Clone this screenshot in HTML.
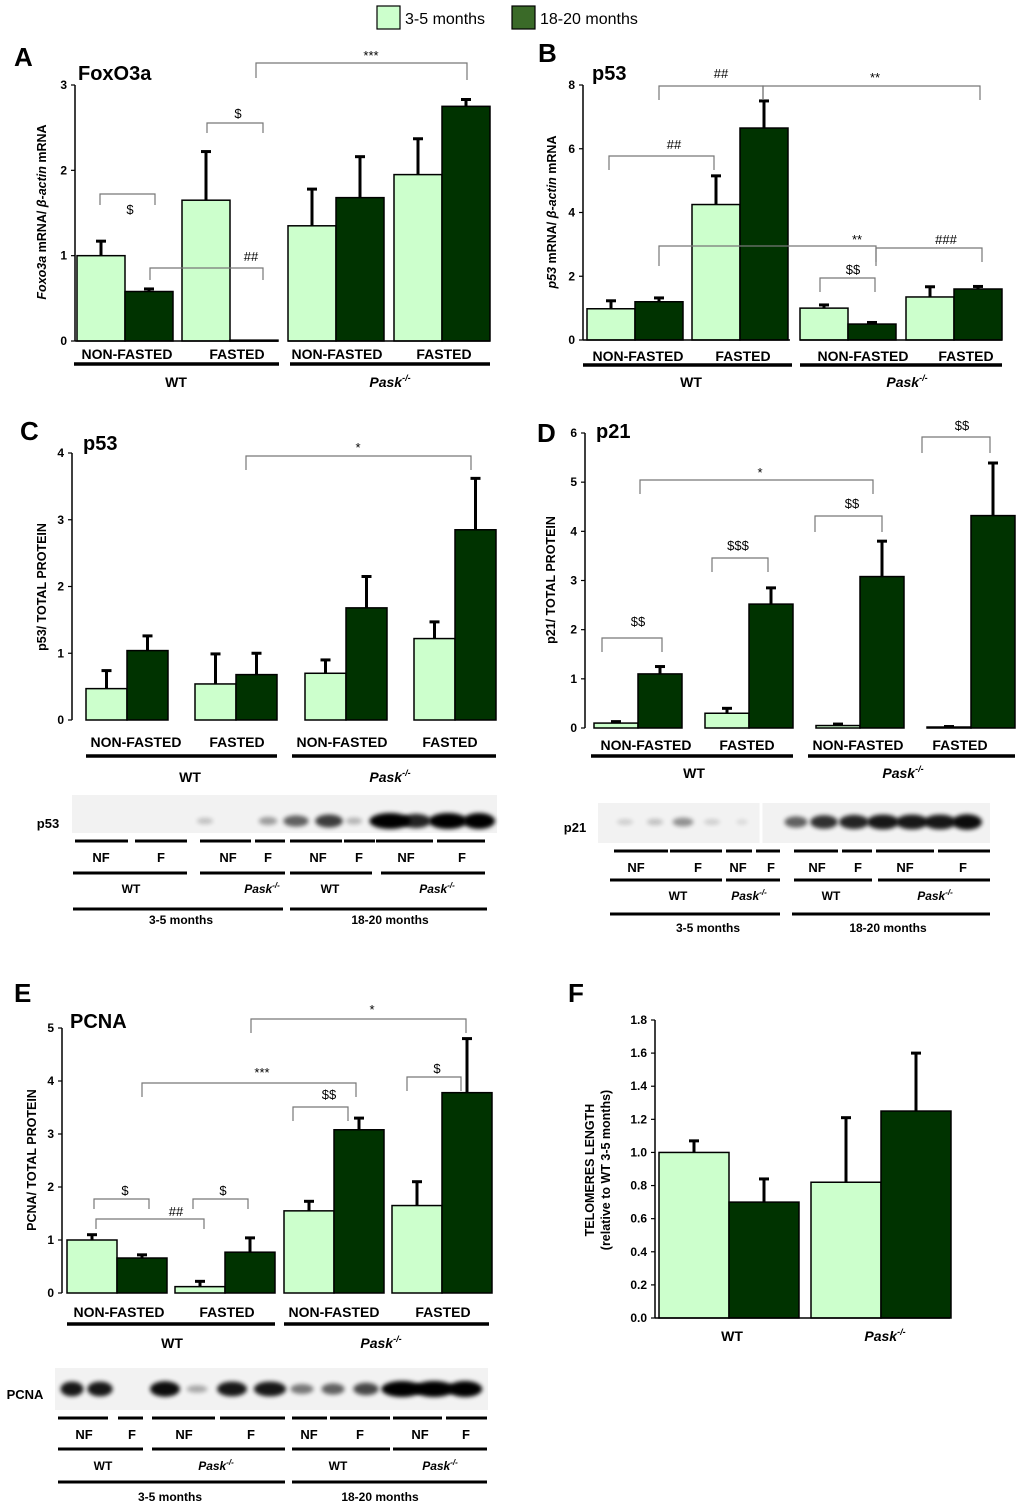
<!DOCTYPE html>
<html><head><meta charset="utf-8"><style>
body{margin:0;background:#fff}
svg{display:block;font-family:"Liberation Sans",Arial,sans-serif}
</style></head><body>
<svg id="fig" width="1020" height="1508" viewBox="0 0 1020 1508">
<defs><filter id="bl" x="-50%" y="-100%" width="200%" height="300%"><feGaussianBlur stdDeviation="2"/></filter></defs>
<g>
<rect x="377" y="6" width="23" height="23" fill="#ccffcc" stroke="#000" stroke-width="1.2"/>
<text x="405" y="24" font-size="16">3-5 months</text>
<rect x="512" y="6" width="23" height="23" fill="#3a6a28" stroke="#000" stroke-width="1.2"/>
<text x="540" y="24" font-size="16">18-20 months</text>
</g>
</svg>
<script>
// ---- data ----
const groups = ["NON-FASTED","FASTED","NON-FASTED","FASTED"];
const aYoung=[1.0,1.65,1.35,1.95], aOld=[0.58,0.01,1.68,2.75], aYoungErr=[0.17,0.57,0.43,0.42], aOldErr=[0.03,0,0.48,0.08];
const aTicks=[0,1,2,3];
const bYoung=[0.98,4.25,1.0,1.35], bOld=[1.2,6.65,0.5,1.6], bYoungErr=[0.25,0.9,0.1,0.32], bOldErr=[0.12,0.85,0.05,0.08];
const bTicks=[0,2,4,6,8];
const cYoung=[0.47,0.54,0.7,1.22], cOld=[1.04,0.68,1.68,2.85], cYoungErr=[0.27,0.45,0.2,0.25], cOldErr=[0.22,0.32,0.47,0.77];
const cTicks=[0,1,2,3,4];
const dYoung=[0.1,0.3,0.05,0.02], dOld=[1.1,2.52,3.08,4.32], dYoungErr=[0.03,0.1,0.03,0.01], dOldErr=[0.15,0.33,0.72,1.07];
const dTicks=[0,1,2,3,4,5,6];
const eYoung=[1.0,0.12,1.55,1.65], eOld=[0.66,0.77,3.08,3.78], eYoungErr=[0.1,0.1,0.18,0.45], eOldErr=[0.06,0.27,0.22,1.02];
const eTicks=[0,1,2,3,4,5];
const fGroups=["WT","Pask"];
const fYoung=[1.0,0.82], fOld=[0.7,1.25], fYoungErr=[0.07,0.39], fOldErr=[0.14,0.35];
const fTicks=[0,0.2,0.4,0.6,0.8,1.0,1.2,1.4,1.6,1.8];

const NS="http://www.w3.org/2000/svg", svg=document.getElementById('fig');
function el(tag,attrs,parent,text){const e=document.createElementNS(NS,tag);for(const k in attrs)e.setAttribute(k,attrs[k]);if(text!==undefined)e.textContent=text;(parent||svg).appendChild(e);return e;}
function grp(name){const g=el('g',{});return g;}

function panel(p){
  const g=grp(p.name);
  const y=v=>p.y0-(v/p.max)*(p.y0-p.yTop);
  const ax=el('line',{x1:p.ax,y1:p.y0,x2:p.ax,y2:p.yTop,stroke:'#000','stroke-width':1.5},g);
  
  p.ticks.forEach(t=>{
    el('line',{x1:p.ax-4,y1:y(t),x2:p.ax,y2:y(t),stroke:'#000','stroke-width':1.2},g);
    const tl=el('text',{x:p.ax-8,y:y(t)+4,'font-size':12,'font-weight':'bold','text-anchor':'end'},g,p.fmt?p.fmt(t):t);
    
  });
  p.young.forEach((v,i)=>{
    [[v,p.yErr[i],p.bx[i],'#ccffcc','young'],[p.old[i],p.oErr[i],p.bx[i]+p.bw,'#003300','old']].forEach(([val,err,x,c,n])=>{
      const top=y(val);
      if(err>0){const ex=x+p.bw/2;el('line',{x1:ex,y1:top,x2:ex,y2:y(val+err),stroke:'#000','stroke-width':3},g);
        el('line',{x1:ex-5,y1:y(val+err),x2:ex+5,y2:y(val+err),stroke:'#000','stroke-width':3},g);}
      const r=el('rect',{x:x,y:top,width:p.bw,height:Math.max(p.y0-top,1),fill:c,stroke:'#000','stroke-width':1.5},g);
      
    });
  });
  if(p.base)p.base.forEach(b=>el('line',{x1:b[0],y1:p.y0,x2:b[1],y2:p.y0,stroke:'#000','stroke-width':1.5},g));
  if(p.cats)p.cats.forEach((c,i)=>{const t=el('text',{x:p.catX[i],y:p.catY,'font-size':14,'font-weight':'bold','text-anchor':'middle'},g,c);
    });
  p.thick.forEach(b=>el('line',{x1:b[0],y1:p.thickY,x2:b[1],y2:p.thickY,stroke:'#000','stroke-width':3.5},g));
  p.geno.forEach((gx,i)=>{const t=el('text',{x:gx,y:p.genoY,'font-size':14,'font-weight':'bold','text-anchor':'middle','font-style':i?'italic':'normal'},g,i?'Pask':'WT');
    if(i)el('tspan',{'font-size':9,dy:-6},t,'-/-');});
  (p.br||[]).forEach(b=>{
    const pth=el('path',{d:`M${b[0]},${b[3]}V${b[2]}H${b[1]}V${b[4]}`,fill:'none',stroke:'#777','stroke-width':1.2},g);
    
    el('text',{x:b[6],y:b[7],'font-size':13,'text-anchor':'middle'},g,b[5]);
  });
  const lt=el('text',{x:p.letter[0],y:p.letter[1],'font-size':26,'font-weight':'bold'},g,p.letter[2]);
  
  if(p.title){const tt=el('text',{x:p.title[0],y:p.title[1],'font-size':20,'font-weight':'bold'},g,p.title[2]);}
  p.ytitle.forEach(yt=>{const t=el('text',{transform:`translate(${yt[0]},${yt[1]}) rotate(-90)`,'font-size':12.5,'font-weight':'bold','text-anchor':'middle'},g);
    t.innerHTML=yt[2];});
}

panel({name:'panel-a',ax:75,y0:341,yTop:85,max:3,ticks:aTicks,young:aYoung,old:aOld,yErr:aYoungErr,oErr:aOldErr,bx:[77,182,288,394],bw:48,
 base:[[75,278],[288,490]],cats:groups,catX:[127,237,337,444],catY:359,thick:[[74,279],[290,490]],thickY:364,geno:[176,390],genoY:387,
 br:[[100,155,194,205,205,'$',130,214],[207,263,123,133,133,'$',238,118],[150,263,268,280,280,'##',251,261],[256,467,63,78,80,'***',371,60]],
 letter:[14,66,'A'],title:[78,80,'FoxO3a'],ytitle:[[46,212,'<tspan font-style="italic">Foxo3a</tspan>  mRNA/ <tspan font-style="italic">β-actin</tspan> mRNA']]});
panel({name:'panel-b',ax:583,y0:340,yTop:85,max:8,ticks:bTicks,young:bYoung,old:bOld,yErr:bYoungErr,oErr:bOldErr,bx:[587,692,800,906],bw:48,
 base:[[583,790],[800,1002]],cats:groups,catX:[638,743,863,966],catY:361,thick:[[583,792],[800,1002]],thickY:365,geno:[691,907],genoY:387,
 br:[[659,763,86,100,100,'##',721,78],[763,980,86,100,100,'**',875,82],[609,714,156,170,170,'##',674,149],[659,876,246,266,266,'**',857,244],[820,875,278,292,292,'$$',853,274],[876,982,248,262,262,'###',946,244]],
 letter:[538,62,'B'],title:[592,80,'p53'],ytitle:[[556,212,'<tspan font-style="italic">p53</tspan> mRNA/ <tspan font-style="italic">β-actin</tspan> mRNA']]});
panel({name:'panel-c',ax:72,y0:720,yTop:453,max:4,ticks:cTicks,young:cYoung,old:cOld,yErr:cYoungErr,oErr:cOldErr,bx:[86,195,305,414],bw:41,
 cats:groups,catX:[136,237,342,450],catY:747,thick:[[86,277],[292,496]],thickY:756,geno:[190,390],genoY:782,
 br:[[246,471,456,470,470,'*',358,452]],letter:[20,440,'C'],title:[83,450,'p53'],ytitle:[[46,587,'p53/ TOTAL PROTEIN']]});
panel({name:'panel-d',ax:585,y0:728,yTop:433,max:6,ticks:dTicks,young:dYoung,old:dOld,yErr:dYoungErr,oErr:dOldErr,bx:[594,705,816,927],bw:44,
 cats:groups,catX:[646,747,858,960],catY:750,thick:[[591,793],[808,1015]],thickY:756,geno:[694,903],genoY:778,
 br:[[602,662,638,652,652,'$$',638,626],[712,768,558,572,572,'$$$',738,550],[640,873,480,494,494,'*',760,477],[815,882,516,532,532,'$$',852,508],[922,990,437,453,453,'$$',962,430]],
 letter:[537,442,'D'],title:[596,438,'p21'],ytitle:[[555,580,'p21/ TOTAL PROTEIN']]});
panel({name:'panel-e',ax:62,y0:1293,yTop:1028,max:5,ticks:eTicks,young:eYoung,old:eOld,yErr:eYoungErr,oErr:eOldErr,bx:[67,175,284,392],bw:50,
 cats:groups,catX:[119,227,334,443],catY:1317,thick:[[67,275],[284,489]],thickY:1324,geno:[172,381],genoY:1348,
 br:[[251,466,1019,1033,1033,'*',372,1014],[142,356,1083,1097,1097,'***',262,1077],[293,348,1107,1121,1121,'$$',329,1099],[407,461,1077,1091,1091,'$',437,1073],[94,149,1199,1209,1209,'$',125,1195],[193,248,1199,1209,1209,'$',223,1195],[96,204,1219,1229,1229,'##',176,1216]],
 letter:[14,1002,'E'],title:[70,1028,'PCNA'],ytitle:[[36,1160,'PCNA/ TOTAL PROTEIN']]});
panel({name:'panel-f',ax:655,y0:1318,yTop:1020,max:1.8,ticks:fTicks,fmt:t=>t.toFixed(1),young:fYoung,old:fOld,yErr:fYoungErr,oErr:fOldErr,bx:[659,811],bw:70,
 base:[[655,950]],thick:[],thickY:0,geno:[732,885],genoY:1341,
 letter:[568,1002,'F'],ytitle:[[594,1170,'TELOMERES LENGTH'],[610,1170,'(relative to WT 3-5 months)']]});

// ---- blots ----
function blot(b){
  const g=grp(b.name);
  const r=el('rect',{x:b.box[0],y:b.box[1],width:b.box[2],height:b.box[3],fill:'#f2f2f2'},g);
  
  if(b.div)el('line',{x1:b.div,y1:b.box[1],x2:b.div,y2:b.box[1]+b.box[3],stroke:'#fff','stroke-width':3},g);
  b.bands.forEach(d=>{const e=el('ellipse',{cx:d[0],cy:b.by,rx:d[1]*1.15,ry:2+d[2]*6,fill:'#000',opacity:d[2],filter:'url(#bl)'},g);
    });
  const lb=el('text',{x:b.lab[0],y:b.lab[1],'font-size':13,'font-weight':'bold','text-anchor':'middle'},g,b.lab[2]);
  
  b.rows.forEach(row=>{row.lines.forEach(l=>el('line',{x1:l[0],y1:row.ly,x2:l[1],y2:row.ly,stroke:'#000','stroke-width':3},g));
    row.texts.forEach((t,i)=>{const it=t==='Pask';const tx=el('text',{x:row.tx[i],y:row.ty,'font-size':row.fs,'font-weight':'bold','text-anchor':'middle','font-style':it?'italic':'normal'},g,t);
      if(it)el('tspan',{'font-size':8,dy:-5},tx,'-/-');});});
}
const NFF=['NF','F','NF','F','NF','F','NF','F'], GEN=['WT','Pask','WT','Pask'], AGE=['3-5 months','18-20 months'];
blot({name:'blot-c',box:[72,795,425,38],by:821,lab:[48,828,'p53'],
 bands:[[205,7,0.2],[268,8,0.35],[296,11,0.6],[329,12,0.75],[354,7,0.25],[390,18,1],[416,13,0.85],[448,17,1],[479,14,1]],
 rows:[{ly:841,lines:[[75,128],[135,187],[200,251],[255,285],[290,342],[344,375],[376,433],[437,485]],tx:[],ty:0,texts:[],fs:13},
 {ly:848,lines:[],tx:[101,161,228,268,318,359,406,462],ty:862,texts:NFF,fs:13},
 {ly:873,lines:[[73,187],[200,285],[290,372],[381,485]],tx:[131,262,330,437],ty:893,texts:GEN,fs:12},
 {ly:909,lines:[[73,283],[290,487]],tx:[181,390],ty:924,texts:AGE,fs:12}]});
blot({name:'blot-d',box:[598,803,392,40],div:761,by:822,lab:[575,832,'p21'],
 bands:[[625,7,0.15],[655,7,0.2],[683,9,0.4],[712,7,0.15],[742,5,0.1],[796,10,0.6],[824,12,0.8],[854,13,0.85],[883,14,0.9],[912,14,0.9],[940,14,0.9],[967,13,0.95]],
 rows:[{ly:851,lines:[[614,668],[670,722],[726,752],[756,780],[794,838],[842,872],[876,934],[938,990]],tx:[],ty:0,texts:[],fs:13},
 {ly:851,lines:[],tx:[636,698,738,771,817,858,905,963],ty:872,texts:NFF,fs:13},
 {ly:880,lines:[[610,722],[726,780],[794,872],[878,990]],tx:[678,749,831,935],ty:900,texts:GEN,fs:12},
 {ly:914,lines:[[610,780],[792,990]],tx:[708,888],ty:932,texts:AGE,fs:12}]});
blot({name:'blot-e',box:[55,1368,433,42],by:1389,lab:[25,1399,'PCNA'],
 bands:[[72,10,0.9],[100,11,0.9],[165,13,0.95],[197,9,0.3],[232,13,0.9],[270,14,0.9],[302,10,0.5],[333,10,0.6],[366,11,0.7],[402,18,1],[434,18,1],[465,15,1]],
 rows:[{ly:1418,lines:[[58,108],[118,143],[152,215],[220,285],[292,327],[330,390],[393,442],[446,487]],tx:[],ty:0,texts:[],fs:13},
 {ly:1418,lines:[],tx:[84,132,184,251,309,360,420,466],ty:1439,texts:NFF,fs:13},
 {ly:1449,lines:[[58,143],[152,285],[292,390],[393,487]],tx:[103,216,338,440],ty:1470,texts:GEN,fs:12},
 {ly:1482,lines:[[58,285],[292,487]],tx:[170,380],ty:1501,texts:AGE,fs:12}]});
</script>
</body></html>
